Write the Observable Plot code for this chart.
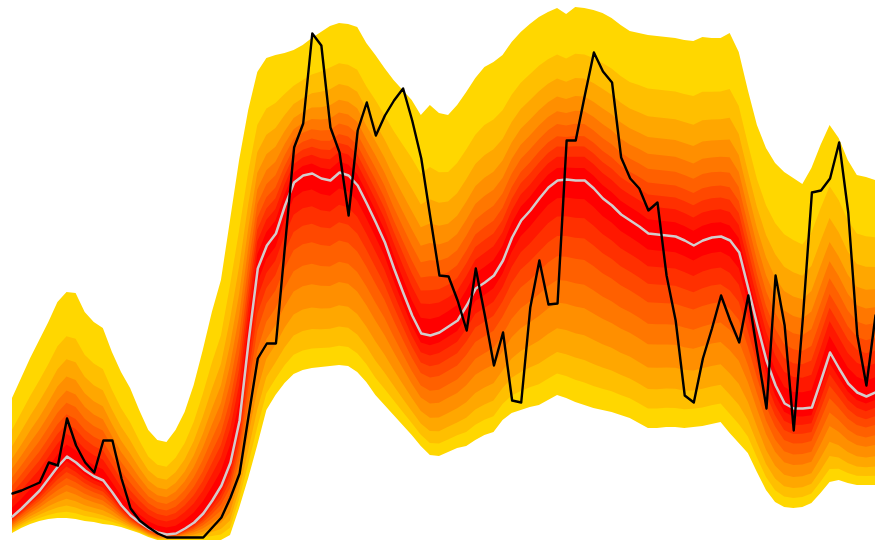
<!DOCTYPE html>
<html>
<head>
<meta charset="utf-8">
<script src="https://cdn.jsdelivr.net/npm/d3@7"></script>
<script src="https://cdn.jsdelivr.net/npm/@observablehq/plot@0.6"></script>
<style>
  html, body { margin: 0; padding: 0; background: #fff; }
  #chart svg { display: block; }
</style>
</head>
<body>
<div id="chart"></div>
<script>
// Observed series (black)
const observed = [4.7,5.0,5.4,5.8,7.8,7.5,12.2,9.5,7.8,6.8, 10.0,10.0,6.2,3.2,2.0,1.3,0.7,0.3,0.3,0.3,
  0.3,0.3,1.3,2.3,4.3,6.7,12.5,18.2,19.7,19.7, 29.5,39.3,41.7,50.7,49.5,41.3,38.8,32.5,41.0,43.8,
  40.5,42.5,44.0,45.2,42.0,38.2,32.3,26.5,26.4,24.0, 21.0,27.2,22.5,17.5,20.8,14.0,13.8,23.3,28.0,23.6,
  23.7,40.0,40.0,44.5,48.8,46.9,45.8,38.3,36.2,35.2, 33.0,33.8,26.5,22.0,14.5,13.8,18.2,21.2,24.5,22.0,
  19.8,24.5,18.8,13.2,26.5,21.5,11.0,22.2,34.8,35.0, 36.2,39.8,32.8,20.5,15.5,22.5];
// Smoothed centre (grey)
const smoothed = [2.4,3.2,4.1,5.0,6.2,7.4,8.4,7.8,7.0,6.4, 6.0,4.8,3.5,2.5,1.8,1.2,0.8,0.6,0.7,1.2,
  1.8,2.7,4.0,5.5,7.8,12.0,20.0,27.2,29.5,30.7, 33.5,35.8,36.5,36.7,36.2,36.0,36.8,36.5,35.5,33.7,
  31.8,29.8,27.2,24.8,22.5,20.7,20.5,20.8,21.4,22.0, 23.5,25.2,25.8,26.5,28.0,30.3,32.0,33.0,34.2,35.3,
  36.0,36.1,36.0,36.0,35.2,34.2,33.5,32.6,32.0,31.4, 30.7,30.6,30.5,30.4,30.0,29.5,30.0,30.3,30.4,30.0,
  28.8,25.2,21.5,18.0,15.5,13.7,13.2,13.2,13.3,16.0, 18.8,17.2,15.7,14.8,14.4,14.8];
// Outer band limits
const upperOuter = [14.2,16.2,18.2,20.0,21.8,23.8,24.8,24.7,22.8,21.8, 21.2,18.8,16.8,15.2,13.0,11.0,10.0,9.8,11.0,12.8,
  15.5,19.0,22.8,26.0,32.0,38.0,43.0,46.8,48.2,48.5, 48.7,49.0,49.5,50.2,50.8,51.4,51.7,51.6,51.3,49.7,
  48.5,47.2,46.0,45.0,44.0,42.5,43.5,42.7,42.5,43.5, 44.8,46.2,47.3,47.8,48.5,49.8,50.8,51.6,52.3,52.8,
  53.2,52.6,53.3,53.2,53.0,52.7,52.2,51.5,50.9,50.7, 50.5,50.4,50.3,50.2,50.0,49.9,50.3,50.2,50.2,50.7,
  48.8,45.0,41.5,39.2,37.7,36.8,36.2,35.6,37.2,39.5, 41.5,40.2,38.0,36.5,36.3,36.0];
const lowerOuter = [0.7,1.2,1.6,1.9,2.1,2.2,2.2,2.1,1.9,1.8, 1.6,1.5,1.3,1.0,0.7,0.3,0,0,0,0,
  0,0,0,0,0.5,3.2,6.2,9.5,13.0,14.5, 15.7,16.6,17.0,17.2,17.3,17.4,17.5,17.4,16.8,15.8,
  14.5,13.5,12.5,11.5,10.5,9.4,8.5,8.4,8.8,9.2, 9.4,10.0,10.5,10.8,12.0,12.7,13.0,13.3,13.5,14.0,
  14.5,14.2,13.8,13.5,13.2,13.0,12.8,12.5,12.2,11.7, 11.2,11.2,11.3,11.3,11.2,11.3,11.4,11.6,11.8,10.7,
  9.7,8.7,6.8,5.0,3.8,3.3,3.2,3.3,3.7,4.7, 5.8,6.0,5.7,5.5,5.5,5.5];
// Fraction of the outer spread reached by each band (inner -> outer)
const upperLevels = [0.07,0.135,0.195,0.255,0.325,0.40,0.485,0.59,0.73,1.0];
const lowerLevels = [0.085,0.17,0.26,0.355,0.465,0.57,0.69,0.80,0.90,1.0];
const bandColors = d3.range(upperLevels.length).map(k => d3.interpolateRgb("#ff0000", "#ffd700")(k / (upperLevels.length - 1)));

const idx = d3.range(observed.length);
const bandMarks = [];
for (let k = upperLevels.length - 1; k >= 0; k--) {
  const rows = idx.map(i => ({
    i,
    hi: smoothed[i] + (upperOuter[i] - smoothed[i]) * upperLevels[k],
    lo: smoothed[i] - (smoothed[i] - lowerOuter[i]) * lowerLevels[k]
  }));
  bandMarks.push(Plot.areaY(rows, {x: "i", y1: "lo", y2: "hi", fill: bandColors[k], curve: "linear"}));
}

const chart = Plot.plot({
  width: 875,
  height: 540,
  marginLeft: 12,
  marginRight: 0,
  marginTop: 0,
  marginBottom: 0,
  x: {domain: [0, observed.length - 1], axis: null},
  y: {domain: [0, 54], axis: null},
  marks: [
    ...bandMarks,
    Plot.line(idx, {x: i => i, y: i => smoothed[i], stroke: "#d2cccc", strokeWidth: 2.5}),
    Plot.line(idx, {x: i => i, y: i => observed[i], stroke: "#000", strokeWidth: 2.4})
  ]
});
document.getElementById("chart").appendChild(chart);
</script>
</body>
</html>
